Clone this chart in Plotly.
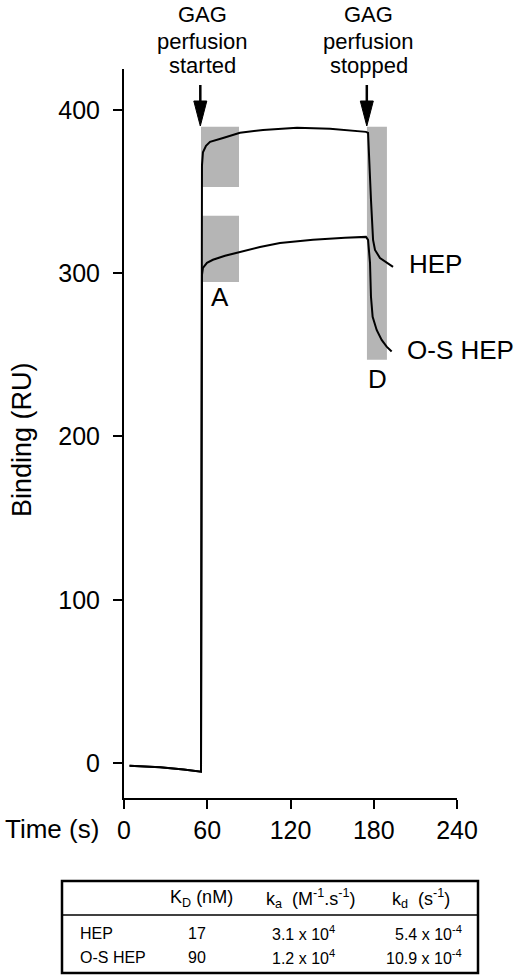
import plotly.graph_objects as go

# ---------------- data ----------------
base_t = [4, 26, 43, 49, 55.5]
base_v = [-1.7, -2.6, -3.9, -4.7, -5.3]

hep_t = [56.2, 56.9, 59.1, 62.0, 71.4, 83.6, 100.2, 124.7, 148.5, 170.1, 174.4,
         175.9, 176.6, 178.0, 179.5, 180.9, 184.5, 188.8, 193.9]
hep_v = [366, 374, 378, 380.4, 382.8, 386, 387.7, 389, 388.4, 387.1, 386.5,
         385.9, 369.4, 344.9, 320.4, 314.2, 309.3, 306.9, 303.8]

os_t = [56.2, 56.9, 59.8, 64.1, 72.8, 83.6, 98.0, 112.4, 136.2, 159.3, 172.3, 174.4,
        175.9, 177.3, 178.0, 179.2, 182.1, 185.7, 189.3, 192.9]
os_v = [299, 303.2, 306.3, 308.2, 310.6, 313, 316, 318.5, 320.4, 321.6, 322.2, 322.2,
        320.4, 306.3, 285.5, 273.2, 265.2, 259.1, 255.0, 252.0]

x_ticks = [0, 60, 120, 180, 240]
y_ticks = [0, 100, 200, 300, 400]

event_t = [55, 175]
event_lines = [["GAG", "perfusion", "started"], ["GAG", "perfusion", "stopped"]]

# shaded analysis windows: (t0, t1, v0, v1)
win_A_hi = [55.5, 82.9, 352.8, 389.6]
win_A_lo = [55.5, 82.9, 294.6, 335.1]
win_D = [175.1, 189.5, 246.9, 389.6]

tbl_header = ["K<sub>D</sub> (nM)", "k<sub>a</sub>  (M<sup>-1</sup>.s<sup>-1</sup>)",
              "k<sub>d</sub>  (s<sup>-1</sup>)"]
tbl_names = ["HEP", "O-S HEP"]
tbl_KD = ["17", "90"]
tbl_ka = ["3.1 x 10<sup>4</sup>", "1.2 x 10<sup>4</sup>"]
tbl_kd = ["5.4 x 10<sup>-4</sup>", "10.9 x 10<sup>-4</sup>"]

# ---------------- layout geometry ----------------
W, H = 520, 979
L, R, T, B = 124, 63, 69, 181
PW, PH = W - L - R, H - T - B
XR = [0, 240]
YR = [-21.4, 425]
FONT = "Liberation Sans, Arial, Helvetica, sans-serif"


def px_x(px):  # pixel -> paper x
    return (px - L) / PW


def px_y(py):  # pixel -> paper y
    return (H - B - py) / PH


def dv(py):  # pixel y -> data value
    return YR[0] + (H - B - py) / PH * (YR[1] - YR[0])


def dt_px(dpx):
    return dpx * (XR[1] - XR[0]) / PW


fig = go.Figure()
line = dict(color="black", width=2)
fig.add_trace(go.Scatter(x=base_t + hep_t, y=base_v + hep_v, mode="lines", line=line,
                         showlegend=False, hoverinfo="skip"))
fig.add_trace(go.Scatter(x=base_t + os_t, y=base_v + os_v, mode="lines", line=line,
                         showlegend=False, hoverinfo="skip"))

shapes = []
GRAY = "rgb(181,181,181)"
for w in (win_A_hi, win_A_lo, win_D):
    shapes.append(dict(type="rect", xref="x", yref="y", x0=w[0], x1=w[1], y0=w[2], y1=w[3],
                       fillcolor=GRAY, line=dict(width=0), layer="below"))

annotations = []
# event arrows
for t, lines in zip(event_t, event_lines):
    shapes.append(dict(type="line", xref="x", yref="y", x0=t, x1=t, y0=dv(85), y1=dv(104),
                       line=dict(color="black", width=2.5)))
    hw = dt_px(6.5)
    shapes.append(dict(type="path", xref="x", yref="y",
                       path=f"M {t-hw},{dv(101)} L {t+hw},{dv(101)} L {t},{dv(126)} Z",
                       fillcolor="black", line=dict(color="black", width=1)))
    for txt, cy in zip(lines, [15, 41, 66]):
        annotations.append(dict(x=t, xref="x", y=px_y(cy), yref="paper", text=txt,
                                showarrow=False, xanchor="center", yanchor="middle", xshift=2,
                                font=dict(size=22, color="black", family=FONT)))

# curve labels
big = dict(size=26, color="black", family=FONT)
annotations += [
    dict(x=px_x(407), y=px_y(264), xref="paper", yref="paper", text="HEP", showarrow=False,
         xanchor="left", yanchor="middle", font=big),
    dict(x=px_x(405), y=px_y(350), xref="paper", yref="paper", text="O-S HEP", showarrow=False,
         xanchor="left", yanchor="middle", font=big),
    dict(x=px_x(220), y=px_y(297), xref="paper", yref="paper", text="A", showarrow=False,
         xanchor="center", yanchor="middle", font=big),
    dict(x=px_x(377), y=px_y(379), xref="paper", yref="paper", text="D", showarrow=False,
         xanchor="center", yanchor="middle", font=big),
    dict(x=px_x(101), y=px_y(829), xref="paper", yref="paper", text="Time (s)", showarrow=False,
         xanchor="right", yanchor="middle", font=big),
    dict(x=px_x(22), y=px_y(440), xref="paper", yref="paper", text="Binding (RU)",
         showarrow=False, textangle=-90, xanchor="center", yanchor="middle",
         font=dict(size=27, color="black", family=FONT)),
]

# table
shapes.append(dict(type="rect", xref="paper", yref="paper", x0=px_x(62), x1=px_x(478),
                   y0=px_y(881), y1=px_y(973), line=dict(color="black", width=2.5)))
shapes.append(dict(type="line", xref="paper", yref="paper", x0=px_x(62), x1=px_x(478),
                   y0=px_y(915), y1=px_y(915), line=dict(color="black", width=1.5)))
tf = dict(size=16, color="black", family=FONT)
hf = dict(size=18, color="black", family=FONT)
for cx, txt in zip([201, 310, 421], tbl_header):
    annotations.append(dict(x=px_x(cx), y=px_y(898), xref="paper", yref="paper", text=txt,
                            showarrow=False, xanchor="center", yanchor="middle", font=hf))
for i, ry in enumerate([933, 957]):
    annotations.append(dict(x=px_x(78), y=px_y(ry), xref="paper", yref="paper", text=tbl_names[i],
                            showarrow=False, xanchor="left", yanchor="middle", font=tf))
    annotations.append(dict(x=px_x(197), y=px_y(ry), xref="paper", yref="paper", text=tbl_KD[i],
                            showarrow=False, xanchor="center", yanchor="middle", font=tf))
    annotations.append(dict(x=px_x(303), y=px_y(ry), xref="paper", yref="paper", text=tbl_ka[i],
                            showarrow=False, xanchor="center", yanchor="middle", font=tf))
    annotations.append(dict(x=px_x(464), y=px_y(ry), xref="paper", yref="paper", text=tbl_kd[i],
                            showarrow=False, xanchor="right", yanchor="middle", font=tf))

axis_common = dict(showline=True, linecolor="black", linewidth=2, ticks="outside", ticklen=9,
                   tickwidth=2, tickcolor="black", showgrid=False, zeroline=False,
                   tickfont=dict(size=25, color="black", family=FONT), fixedrange=True)
fig.update_layout(
    width=W, height=H, autosize=False,
    margin=dict(l=L, r=R, t=T, b=B, pad=0),
    paper_bgcolor="white", plot_bgcolor="white",
    xaxis=dict(range=XR, tickvals=x_ticks, ticklabelstandoff=0, **axis_common),
    yaxis=dict(range=YR, tickvals=y_ticks, ticklabelstandoff=8, **axis_common),
    shapes=shapes, annotations=annotations, font=dict(family=FONT, color="black"),
)
fig.write_html(
    "out.html",
    config={"displayModeBar": False},
    post_script="document.body.style.margin='0';document.body.style.overflow='hidden';",
)
